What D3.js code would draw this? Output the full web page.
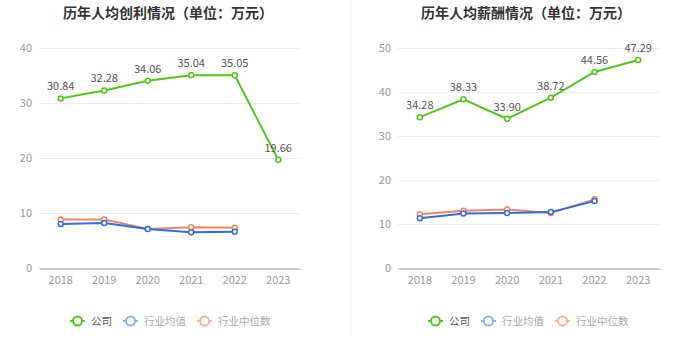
<!DOCTYPE html>
<html>
<head>
<meta charset="utf-8">
<script src="https://cdn.jsdelivr.net/npm/d3@7"></script>
<style>
  body { margin: 0; background: #fff; }
  svg { display: block; font-family: "Noto Sans CJK SC", "Noto Sans", sans-serif; }
</style>
</head>
<body>
<div id="chart"></div>
<script>
// data
const years = ['2018', '2019', '2020', '2021', '2022', '2023'];

const profitCompany = [30.84, 32.28, 34.06, 35.04, 35.05, 19.66];
const profitAvg     = [8.0, 8.2, 7.1, 6.5, 6.6];
const profitMedian  = [8.8, 8.8, 7.1, 7.4, 7.3];
const profitTicks   = [0, 10, 20, 30, 40];

const payCompany = [34.28, 38.33, 33.90, 38.72, 44.56, 47.29];
const payAvg     = [11.3, 12.4, 12.5, 12.7, 15.2];
const payMedian  = [12.2, 13.0, 13.3, 12.5, 15.6];
const payTicks   = [0, 10, 20, 30, 40, 50];

const seriesNames = ['公司', '行业均值', '行业中位数'];
const colors = ['#52c41a', '#2f6ce5', '#f5845a'];
const legendColors = ['#52c41a', '#8fb0f5', '#f9b29c'];

const W = 699, H = 359;
const svg = d3.select('#chart').append('svg')
    .attr('width', W).attr('height', H);

// divider between the two panels
svg.append('line')
    .attr('x1', 351).attr('x2', 351)
    .attr('y1', 0).attr('y2', 336)
    .attr('stroke', '#f0f0f0').attr('stroke-width', 1);

function drawPanel(opt){
    const g = svg.append('g');
    const x = d3.scaleBand().domain(years).range([opt.left, opt.right]);
    const y = d3.scaleLinear().domain([0, opt.ticks[opt.ticks.length-1]]).range([268, 48]);
    const cx = d => x(d) + x.bandwidth()/2;

    g.append('text')
        .attr('x', opt.titleX).attr('y', 18)
        .attr('text-anchor', 'middle')
        .attr('font-size', 14).attr('font-weight', 'bold')
        .attr('fill', '#333')
        .text(opt.title);

    // grid
    g.selectAll('line.grid')
        .data(opt.ticks.slice(1))
        .join('line')
        .attr('x1', opt.left).attr('x2', opt.right)
        .attr('y1', d => y(d) + 0.5).attr('y2', d => y(d) + 0.5)
        .attr('stroke', '#e8edf5');

    g.selectAll('text.ytick')
        .data(opt.ticks)
        .join('text')
        .attr('x', opt.left - 7).attr('y', d => y(d) + 4)
        .attr('text-anchor', 'end')
        .attr('font-size', 11).attr('fill', '#999')
        .text(d => d);

    // x axis
    const xAxis = g.append('g')
        .attr('transform', `translate(0,${y(0) + 0.5})`)
        .call(d3.axisBottom(x).tickSize(0).tickPadding(8));
    xAxis.select('.domain').attr('stroke', '#999');
    xAxis.selectAll('text').attr('font-size', 11).attr('fill', '#999')
        .attr('font-family', '"Noto Sans CJK SC", "Noto Sans", sans-serif');

    const line = d3.line().x((d, i) => cx(years[i])).y(d => y(d));
    const sets = [opt.company, opt.avg, opt.median];
    // draw industry series first, company on top
    [2, 1, 0].forEach(k => {
        const vals = sets[k];
        g.append('path')
            .datum(vals)
            .attr('d', line)
            .attr('fill', 'none')
            .attr('stroke', colors[k])
            .attr('stroke-width', 2);
        g.selectAll(null)
            .data(vals)
            .join('circle')
            .attr('cx', (d, i) => cx(years[i]))
            .attr('cy', d => y(d))
            .attr('r', 2.5)
            .attr('fill', '#fff')
            .attr('stroke', colors[k])
            .attr('stroke-width', 1.5);
    });

    g.selectAll('text.lbl')
        .data(opt.company)
        .join('text')
        .attr('x', (d, i) => cx(years[i]))
        .attr('y', d => y(d) - 8)
        .attr('text-anchor', 'middle')
        .attr('font-size', 11).attr('fill', '#555')
        .text(d => d.toFixed(2));

    // legend
    const lg = g.append('g').attr('transform', `translate(${opt.legendX},321)`);
    const offs = [0, 53, 127];
    seriesNames.forEach((name, k) => {
        const it = lg.append('g').attr('transform', `translate(${offs[k]},0)`);
        it.append('line').attr('x1', 0).attr('x2', 15)
            .attr('stroke', legendColors[k]).attr('stroke-width', 2);
        it.append('circle').attr('cx', 7.5).attr('r', 4.5)
            .attr('fill', '#fff').attr('stroke', legendColors[k]).attr('stroke-width', 2);
        it.append('text').attr('x', 21).attr('y', 4)
            .attr('font-size', 10.5)
            .attr('fill', k === 0 ? '#555' : '#aaa')
            .text(name);
    });
}

drawPanel({
    title: '历年人均创利情况（单位：万元）', titleX: 168,
    left: 39, right: 300, ticks: profitTicks,
    company: profitCompany, avg: profitAvg, median: profitMedian,
    legendX: 70
});
drawPanel({
    title: '历年人均薪酬情况（单位：万元）', titleX: 526,
    left: 398, right: 660, ticks: payTicks,
    company: payCompany, avg: payAvg, median: payMedian,
    legendX: 428
});
</script>
</body>
</html>
